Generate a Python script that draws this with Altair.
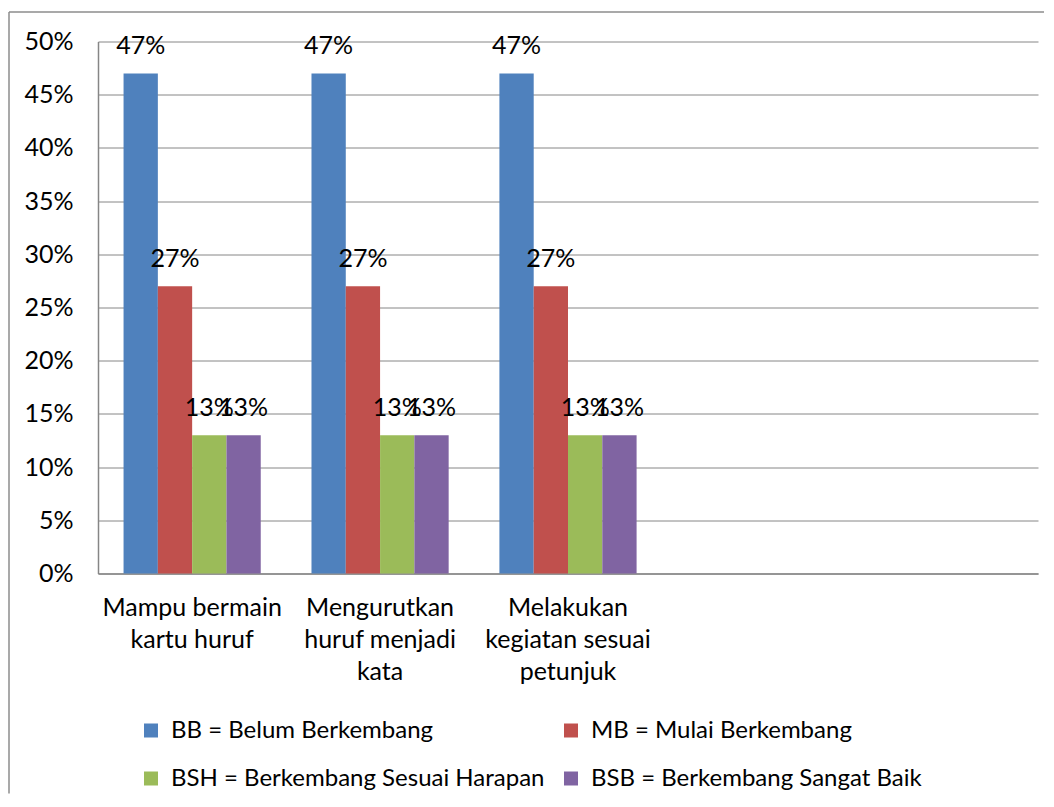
import altair as alt
import pandas as pd

categories = [
    "Mampu bermain|kartu huruf",
    "Mengurutkan|huruf menjadi|kata",
    "Melakukan|kegiatan sesuai|petunjuk",
    " ",
    "  ",
]
series = [
    "BB = Belum Berkembang",
    "MB = Mulai Berkembang",
    "BSH = Berkembang Sesuai Harapan",
    "BSB = Berkembang Sangat Baik",
]
colors = ["#4F81BD", "#C0504D", "#9BBB59", "#8064A2"]
bb_values = [0.47, 0.47, 0.47]
mb_values = [0.27, 0.27, 0.27]
bsh_values = [0.13, 0.13, 0.13]
bsb_values = [0.13, 0.13, 0.13]
y_ticks = [0, 0.05, 0.10, 0.15, 0.20, 0.25, 0.30, 0.35, 0.40, 0.45, 0.50]

rows = []
for s, vals in zip(series, [bb_values, mb_values, bsh_values, bsb_values]):
    for c, v in zip(categories[:3], vals):
        rows.append({"cat": c, "series": s, "value": v})
df = pd.DataFrame(rows)

FONT = "Lato"
FS = 25
LEG_FS = 24
GRAY = "#868686"

x_enc = alt.X(
    "cat:N",
    sort=categories,
    scale=alt.Scale(domain=categories, paddingInner=0.27, paddingOuter=0.136),
    axis=alt.Axis(
        title=None,
        labelExpr="split(datum.label, '|')",
        labelAngle=0,
        ticks=False,
        domainColor=GRAY,
        domainWidth=1.5,
        labelFont=FONT,
        labelFontSize=FS,
        labelColor="black",
        labelPadding=22,
        labelLineHeight=32,
        labelLimit=400,
        labelOverlap=False,
    ),
)
xoff_enc = alt.XOffset(
    "series:N", sort=series, scale=alt.Scale(domain=series, paddingInner=0, paddingOuter=0)
)
y_enc = alt.Y(
    "value:Q",
    scale=alt.Scale(domain=[0, 0.5], nice=False),
    axis=alt.Axis(
        title=None,
        values=y_ticks,
        format=".0%",
        ticks=False,
        labelPadding=25,
        gridColor=GRAY,
        gridWidth=1,
        domainColor=GRAY,
        domainWidth=1.5,
        labelFont=FONT,
        labelFontSize=FS,
        labelColor="black",
    ),
)

bars = alt.Chart(df).mark_bar().encode(
    x=x_enc,
    xOffset=xoff_enc,
    y=y_enc,
    color=alt.Color(
        "series:N",
        sort=series,
        scale=alt.Scale(domain=series, range=colors),
        legend=alt.Legend(
            title=None,
            orient="none",
            direction="horizontal",
            legendX=41,
            legendY=677,
            columns=2,
            symbolType="square",
            symbolSize=196,
            symbolStrokeWidth=0,
            labelFont=FONT,
            labelFontSize=LEG_FS,
            labelColor="black",
            labelOffset=8,
            columnPadding=14,
            rowPadding=24,
            padding=0,
            labelLimit=600,
        ),
    ),
)

labels = alt.Chart(df).mark_text(
    baseline="alphabetic", dy=-19, font=FONT, fontSize=FS, color="black"
).encode(
    x=alt.X("cat:N", sort=categories),
    xOffset=alt.XOffset("series:N", sort=series),
    y=alt.Y("value:Q"),
    text=alt.Text("value:Q", format=".0%"),
)

border_df = pd.DataFrame({"k": [0]})
border_top = alt.Chart(border_df).mark_rule(color="#8c8c8c", strokeWidth=1.5).encode(
    x=alt.value(-89), x2=alt.value(946), y=alt.value(-29.5)
)
border_left = alt.Chart(border_df).mark_rule(color="#8c8c8c", strokeWidth=1.5).encode(
    x=alt.value(-89), y=alt.value(-29.5), y2=alt.value(752)
)

chart = (
    alt.layer(bars, labels, border_top, border_left)
    .properties(
        width=940,
        height=532,
        padding={"left": 0, "top": 2.5, "right": 0, "bottom": 0},
    )
    .configure_view(stroke=None)
)

chart.save("out.html", embed_options={"renderer": "svg", "actions": False})
